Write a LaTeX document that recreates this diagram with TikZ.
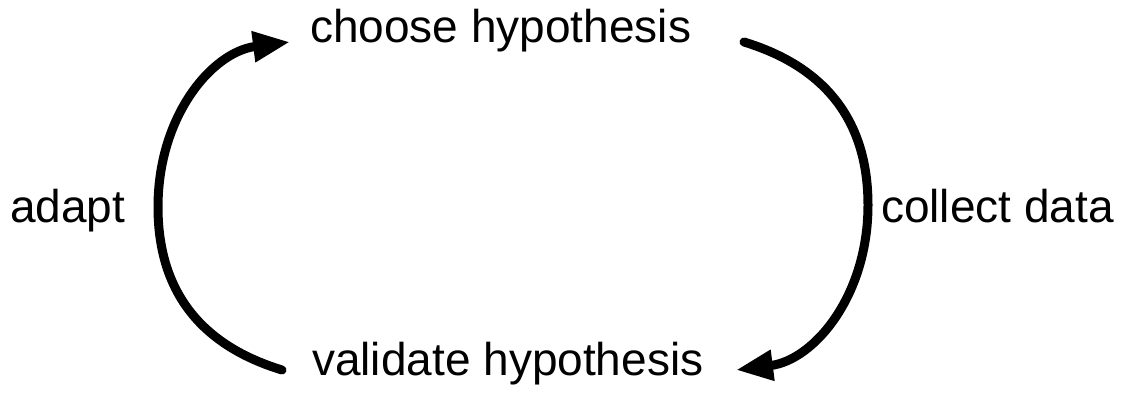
\documentclass[tikz,border=0pt]{standalone}
\usepackage{fontspec}
\setmainfont{Liberation Sans}
\usetikzlibrary{arrows.meta}
\begin{document}
\begin{tikzpicture}[x=1pt,y=-1pt,
  lbl/.style={inner sep=0pt, anchor=base west, font=\fontsize{46}{55}\selectfont},
  arc/.style={line width=9pt, line cap=round, -{Triangle[length=37pt,width=29pt]}}]
\useasboundingbox (0,0) rectangle (1130,401);
\node[lbl] (choose) at (310,43) {choose hypothesis};
\node[lbl] (validate) at (312,375) {validate hypothesis};
\node[lbl] (adapt) at (10,222) {adapt};
\node[lbl] (collect) at (881,222) {collect data};
\coordinate (adaptS) at (282,370);
\coordinate (adaptT) at (290,42);
\coordinate (collS) at (744,42);
\coordinate (collT) at (736,370);
\draw[arc] (adaptS) .. controls (210,348) and (158,300) .. (158,207)
  .. controls (158,116) and (212,52) .. (adaptT);
\draw[arc] (collS) .. controls (816,64) and (868,112) .. (868,205)
  .. controls (868,296) and (814,360) .. (collT);
\end{tikzpicture}
\end{document}
